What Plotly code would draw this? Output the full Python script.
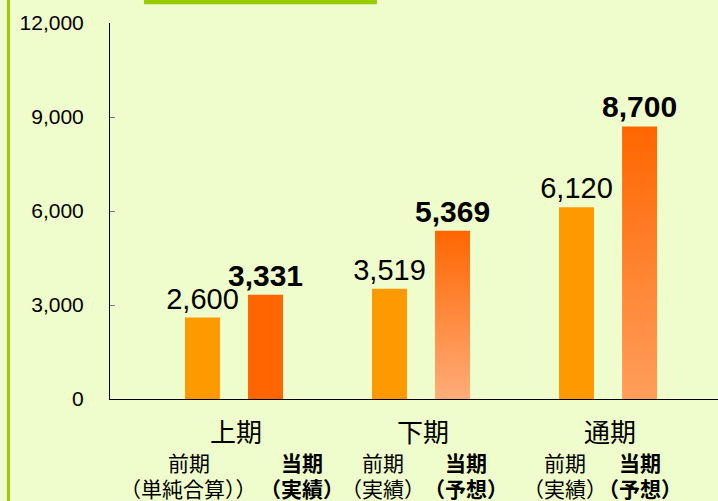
import plotly.graph_objects as go

# ---- data ----
periods = ["上期", "下期", "通期"]
prior_values = [2600, 3519, 6120]
current_values = [3331, 5369, 8700]
prior_sub1 = ["前期", "前期", "前期"]
prior_sub2 = ["（単純合算））", "（実績）", "（実績）"]
current_sub1 = ["当期", "当期", "当期"]
current_sub2 = ["（実績）", "（予想）", "（予想）"]
y_ticks = [0, 3000, 6000, 9000, 12000]
y_ticktext = ["0", "3,000", "6,000", "9,000", "12,000"]

# ---- style ----
BG = "#EFFCCB"
PRIOR_COLOR = "#FF9900"
CURRENT_COLOR = "#FF6600"
gradient_bottom = [None, "#FFAD79", "#FF9E5C"]  # None -> solid bar
NUM_FONT = "Liberation Sans, Arial, sans-serif"
JP_FONT = "Noto Sans CJK JP, sans-serif"

BARGAP = 0.326
BARGROUPGAP = 0.445
half_group = (1 - BARGAP) / 4
bar_w = (1 - BARGAP) / 2 * (1 - BARGROUPGAP)

xs = list(range(len(periods)))

fig = go.Figure()
fig.add_trace(go.Bar(
    x=xs, y=prior_values, marker=dict(color=PRIOR_COLOR, line=dict(width=0)),
    text=[f"{v:,}" for v in prior_values], textposition="outside",
    textfont=dict(family=NUM_FONT, size=29, color="black"),
    constraintext="none", cliponaxis=False, hoverinfo="y",
))
cur_colors = [CURRENT_COLOR if g is None else "rgba(0,0,0,0)" for g in gradient_bottom]
fig.add_trace(go.Bar(
    x=xs, y=current_values, marker=dict(color=cur_colors, line=dict(width=0)),
    text=[f"<b>{v:,}</b>" for v in current_values], textposition="outside",
    textfont=dict(family=NUM_FONT, size=30, color="black"),
    constraintext="none", cliponaxis=False, hoverinfo="y",
))

# gradient fills for the forecast bars (same geometry as the bar trace)
for i, (v, g) in enumerate(zip(current_values, gradient_bottom)):
    if g is None:
        continue
    cx = xs[i] + half_group
    fig.add_trace(go.Scatter(
        x=[cx - bar_w / 2, cx - bar_w / 2, cx + bar_w / 2, cx + bar_w / 2, cx - bar_w / 2],
        y=[0, v, v, 0, 0], mode="lines", line=dict(width=0), fill="toself",
        fillgradient=dict(type="vertical", colorscale=[[0, g], [1, CURRENT_COLOR]]),
        hoverinfo="skip", showlegend=False,
    ))

# category labels
label_off = {0: (-0.241, 0.364), 1: (-0.203, 0.241), 2: (-0.23, 0.171)}
annos = []
def add_label(x, y, text, size):
    annos.append(dict(x=x, y=y, xref="x", yref="paper", text=text, showarrow=False,
                      font=dict(family=JP_FONT, size=size, color="black"),
                      yanchor="middle", height=size + 4, borderpad=0))

for i, p in enumerate(periods):
    add_label(xs[i] + 0.01, -0.082, p, 26)
    lo, ro = label_off[i]
    add_label(xs[i] + lo, -0.167, prior_sub1[i], 21)
    add_label(xs[i] + lo, -0.236, prior_sub2[i], 21)
    add_label(xs[i] + ro, -0.167, "<b>" + current_sub1[i] + "</b>", 21)
    add_label(xs[i] + ro, -0.236, "<b>" + current_sub2[i] + "</b>", 21)

fig.update_layout(
    width=718, height=501,
    margin=dict(l=110, r=0, t=23, b=102, pad=0),
    paper_bgcolor=BG, plot_bgcolor=BG,
    barmode="group", bargap=BARGAP, bargroupgap=BARGROUPGAP,
    showlegend=False,
    annotations=annos,
    xaxis=dict(range=[-0.663, 2.588], showticklabels=False, ticks="",
               showgrid=False, zeroline=False, showline=True, linecolor="black", linewidth=1),
    yaxis=dict(range=[0, 12000], tickvals=y_ticks, ticktext=y_ticktext,
               ticks="inside", ticklen=5, tickcolor="#777777", tickwidth=1,
               ticklabelstandoff=21,
               tickfont=dict(family=NUM_FONT, size=21, color="black"),
               showgrid=False, zeroline=False, showline=True, linecolor="black", linewidth=1),
    shapes=[
        dict(type="line", xref="paper", yref="paper", x0=-0.167, x1=-0.167, y0=-0.3, y1=1.1,
             line=dict(color="#99CC00", width=3)),
        dict(type="rect", xref="paper", yref="paper", x0=0.056, x1=0.439, y0=1.05, y1=1.07,
             line=dict(width=0), fillcolor="#99CC00"),
    ],
)

fig.write_html("out.html", config={"displayModeBar": False},
               post_script="document.body.style.margin='0';document.body.style.overflow='hidden';")
